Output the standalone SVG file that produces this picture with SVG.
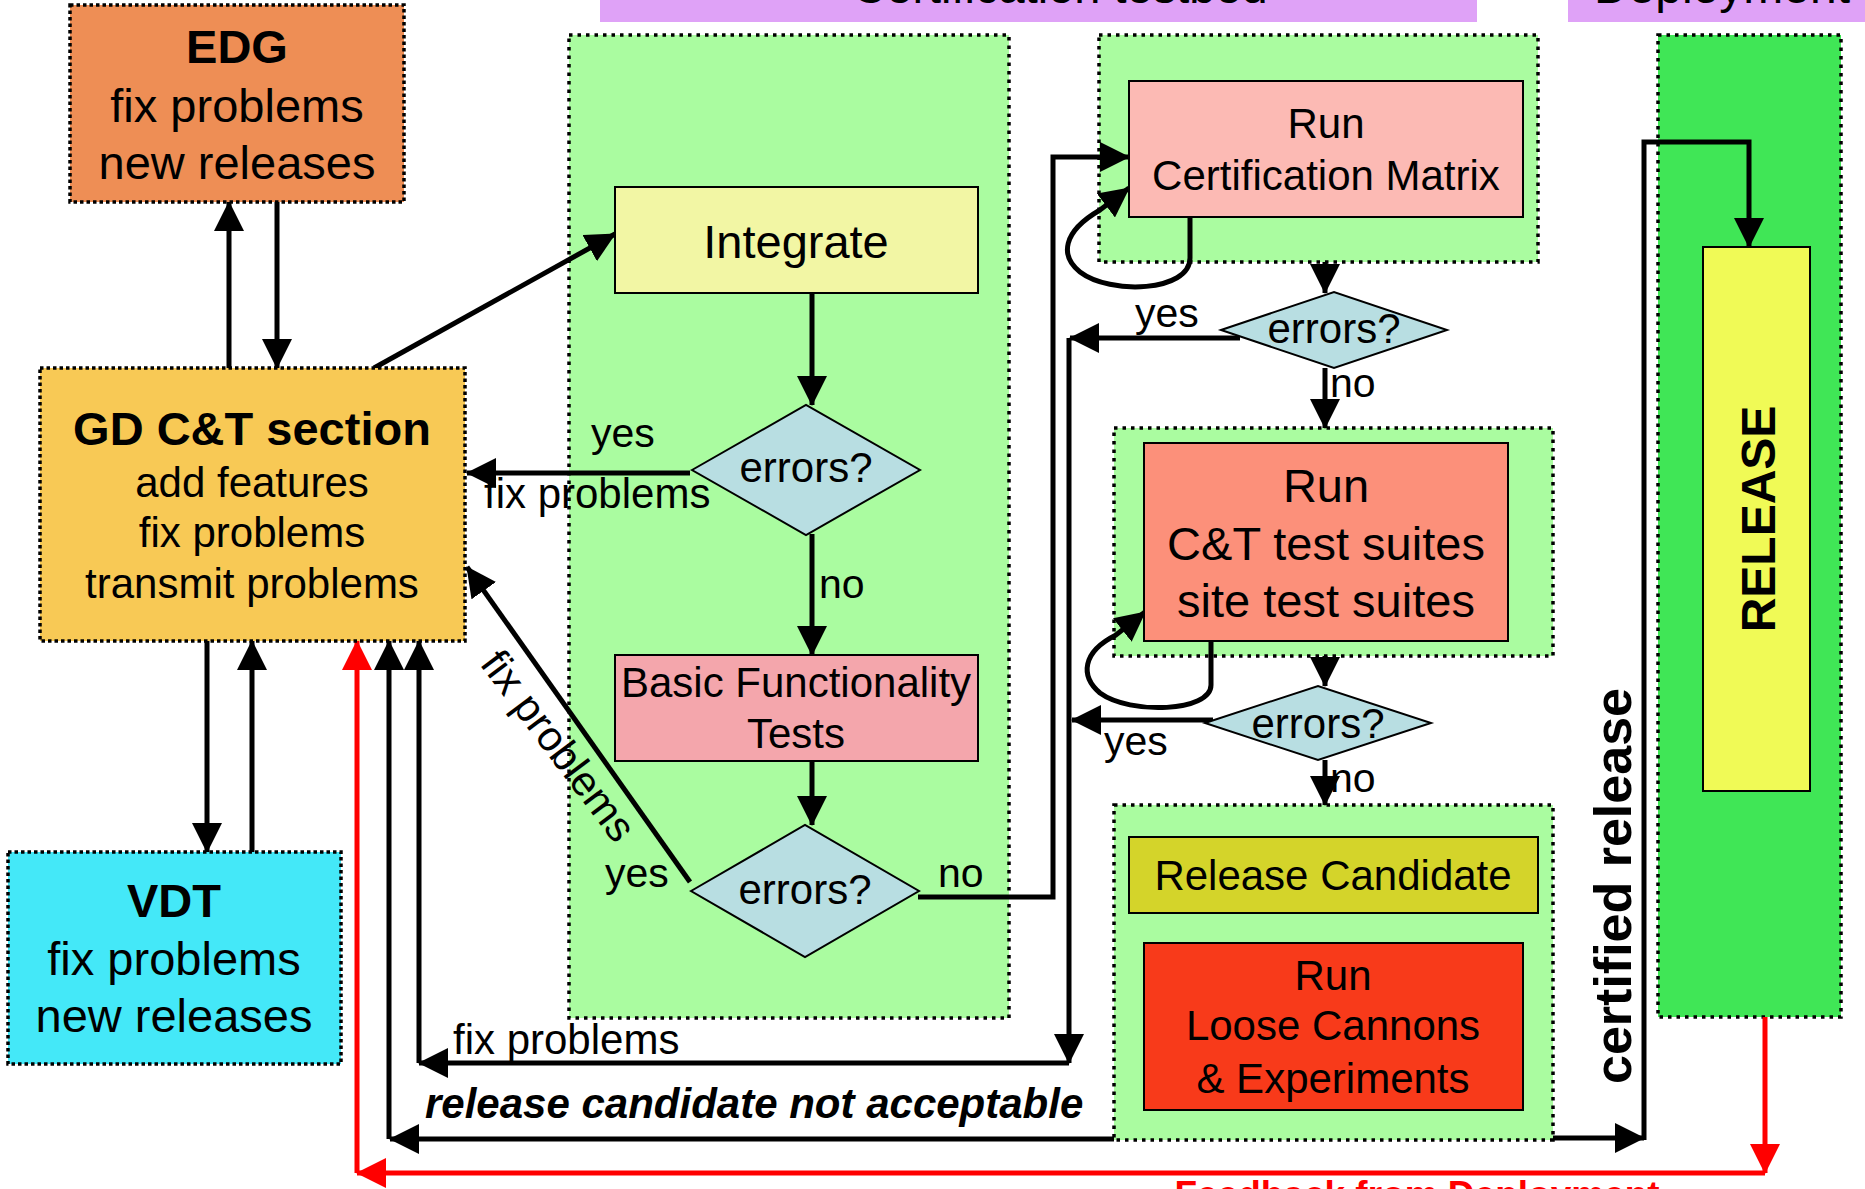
<svg xmlns="http://www.w3.org/2000/svg" width="1865" height="1189" viewBox="0 0 1865 1189">
<defs>
<marker id="ah" viewBox="0 0 30 30" refX="29" refY="15" markerWidth="30" markerHeight="30" markerUnits="userSpaceOnUse" orient="auto"><path d="M0,0 L30,15 L0,30 z" fill="#000"/></marker>
<marker id="ahr" viewBox="0 0 30 30" refX="29" refY="15" markerWidth="30" markerHeight="30" markerUnits="userSpaceOnUse" orient="auto"><path d="M0,0 L30,15 L0,30 z" fill="#FF0000"/></marker>
<style>
text { font-family: "Liberation Sans", Arial, sans-serif; fill: #000; }
.c { text-anchor: middle; }
.f42 { font-size: 42px; }
.f47 { font-size: 47px; }
.lbl { font-size: 41px; }
.b { font-weight: bold; }
.grp { stroke: #000; stroke-width: 3.5; stroke-dasharray: 3.5 5; }
.dot { stroke: #000; stroke-width: 3.5; stroke-dasharray: 3.5 3; }
.box { stroke: #000; stroke-width: 2; }
.dia { fill: #B8DEE2; stroke: #000; stroke-width: 2; }
.ln { fill: none; stroke: #000; stroke-width: 5; }
.arr { marker-end: url(#ah); }
.rl { fill: none; stroke: #FF0000; stroke-width: 5; marker-end: url(#ahr); }
.green { fill: #AAFCA0; }
</style>
</defs>
<rect width="1865" height="1189" fill="#fff"/>

<g id="banners">
<rect x="600" y="0" width="877" height="22" fill="#DFA2F7"/>
<text x="1060" y="3" class="c" font-size="47">Certification testbed</text>
<rect x="1568" y="0" width="297" height="22" fill="#DFA2F7"/>
<text x="1722" y="3" class="c" font-size="48">Deployment</text>
</g>

<g id="containers">
<rect id="c-integration" x="569" y="35" width="440" height="983" class="green grp"/>
<rect id="c-certmatrix" x="1099" y="35" width="439" height="227" class="green grp"/>
<rect id="c-testsuites" x="1114" y="428" width="439" height="228" class="green grp"/>
<rect id="c-candidate" x="1114" y="805" width="439" height="335" class="green grp"/>
<rect id="c-deployment" x="1658" y="35" width="183" height="982" fill="#40E656" class="grp"/>
</g>

<g id="connectors">
<path class="ln arr" d="M229,373 V202"/>
<path class="ln arr" d="M277,202 V368"/>
<path class="ln arr" d="M374,368 L615,234"/>
<path class="ln arr" d="M207,641 V852"/>
<path class="ln arr" d="M252,852 V641"/>
<path class="ln arr" d="M812,293 V405"/>
<path class="ln arr" d="M690,473 H467"/>
<path class="ln arr" d="M812,534 V655"/>
<path class="ln arr" d="M812,761 V825"/>
<path class="ln arr" d="M690,882 L467,567"/>
<path class="ln arr" d="M918,897 H1053 V157 H1129"/>
<path class="ln arr" d="M1190,217 L1190,258 C1190,292 1110,295 1080,272 C1060,256 1062,232 1100,210 L1129,188"/>
<path class="ln arr" d="M1325,262 V293"/>
<path class="ln arr" d="M1240,338 H1070"/>
<path class="ln arr" d="M1069,338 V1063"/>
<path class="ln arr" d="M1325,368 V428"/>
<path class="ln arr" d="M1325,656 V686"/>
<path class="ln arr" d="M1211,641 L1211,685 C1211,712 1130,715 1100,693 C1080,676 1082,652 1116,635 L1145,612"/>
<path class="ln arr" d="M1213,720 H1072"/>
<path class="ln arr" d="M1325,760 V805"/>
<path class="ln arr" d="M1069,1063 H419"/>
<path class="ln arr" d="M419,1063 V641"/>
<path class="ln arr" d="M1114,1139 H390"/>
<path class="ln arr" d="M389,1139 V641"/>
<path class="ln arr" d="M1553,1138 H1644"/>
<path class="ln arr" d="M1644,1140 V142 H1749 V247"/>
<path class="rl" d="M1765,1017 V1173"/>
<path class="rl" d="M1765,1173 H357"/>
<path class="rl" d="M357,1173 V641"/>
</g>

<g id="edg">
<rect x="70" y="5" width="334" height="197" fill="#EE8E55" class="dot"/>
<text x="237" y="63" class="c f47 b">EDG</text>
<text x="237" y="122" class="c f47">fix problems</text>
<text x="237" y="179" class="c f47">new releases</text>
</g>

<g id="gd">
<rect x="40" y="368" width="425" height="273" fill="#F8C955" class="dot"/>
<text x="252" y="445" class="c b" font-size="47">GD C&amp;T section</text>
<text x="252" y="497" class="c f42">add features</text>
<text x="252" y="547" class="c f42">fix problems</text>
<text x="252" y="598" class="c f42">transmit problems</text>
</g>

<g id="vdt">
<rect x="8" y="852" width="333" height="212" fill="#44E8F8" class="dot"/>
<text x="174" y="917" class="c f47 b">VDT</text>
<text x="174" y="975" class="c f47">fix problems</text>
<text x="174" y="1032" class="c f47">new releases</text>
</g>

<g id="integrate">
<rect x="615" y="187" width="363" height="106" fill="#F2F6A4" class="box"/>
<text x="796" y="258" class="c f47">Integrate</text>
</g>

<g id="decision1">
<polygon points="692,470 806,405 920,470 806,535" class="dia"/>
<text x="806" y="482" class="c f42">errors?</text>
</g>

<g id="bft">
<rect x="615" y="655" width="363" height="106" fill="#F4A6AC" class="box"/>
<text x="796" y="697" class="c f42">Basic Functionality</text>
<text x="796" y="748" class="c f42">Tests</text>
</g>

<g id="decision2">
<polygon points="691,891 805,825 919,891 805,957" class="dia"/>
<text x="805" y="904" class="c f42">errors?</text>
</g>

<g id="certmatrix">
<rect x="1129" y="81" width="394" height="136" fill="#FCBAB4" class="box"/>
<text x="1326" y="138" class="c f42">Run</text>
<text x="1326" y="190" class="c f42">Certification Matrix</text>
</g>

<g id="decision3">
<polygon points="1221,330 1334,292 1447,330 1334,368" class="dia"/>
<text x="1334" y="343" class="c f42">errors?</text>
</g>

<g id="testsuites">
<rect x="1144" y="443" width="364" height="198" fill="#FC907A" class="box"/>
<text x="1326" y="502" class="c f47">Run</text>
<text x="1326" y="560" class="c f47">C&amp;T test suites</text>
<text x="1326" y="617" class="c f47">site test suites</text>
</g>

<g id="decision4">
<polygon points="1205,723 1318,686 1431,723 1318,760" class="dia"/>
<text x="1318" y="738" class="c f42">errors?</text>
</g>

<g id="candidate">
<rect x="1129" y="837" width="409" height="76" fill="#D4D42A" class="box"/>
<text x="1333" y="890" class="c f42">Release Candidate</text>
</g>

<g id="loosecannons">
<rect x="1144" y="943" width="379" height="167" fill="#F83A1A" class="box"/>
<text x="1333" y="990" class="c f42">Run</text>
<text x="1333" y="1040" class="c f42">Loose Cannons</text>
<text x="1333" y="1093" class="c f42">&amp; Experiments</text>
</g>

<g id="release">
<rect x="1703" y="247" width="107" height="544" fill="#F0FA56" class="box"/>
<text transform="translate(1775,519) rotate(-90)" class="c b" font-size="48">RELEASE</text>
</g>

<g id="labels">
<text x="591" y="447" class="lbl">yes</text>
<text x="484" y="508" class="f42">fix problems</text>
<text x="819" y="598" class="lbl">no</text>
<text x="605" y="887" class="lbl">yes</text>
<text x="938" y="887" class="lbl">no</text>
<text transform="translate(479,664) rotate(53)" class="f42">fix problems</text>
<text x="1135" y="327" class="lbl">yes</text>
<text x="1330" y="397" class="lbl">no</text>
<text x="1104" y="755" class="lbl">yes</text>
<text x="1330" y="792" class="lbl">no</text>
<text x="453" y="1054" class="f42">fix problems</text>
<text x="425" y="1118" class="f42 b" font-style="italic">release candidate not acceptable</text>
<text transform="translate(1631,886) rotate(-90)" class="c b" font-size="52">certified release</text>
<text x="1417" y="1207" class="c b" font-size="37" style="fill:#FF0000">Feedback from Deployment</text>
</g>
</svg>
